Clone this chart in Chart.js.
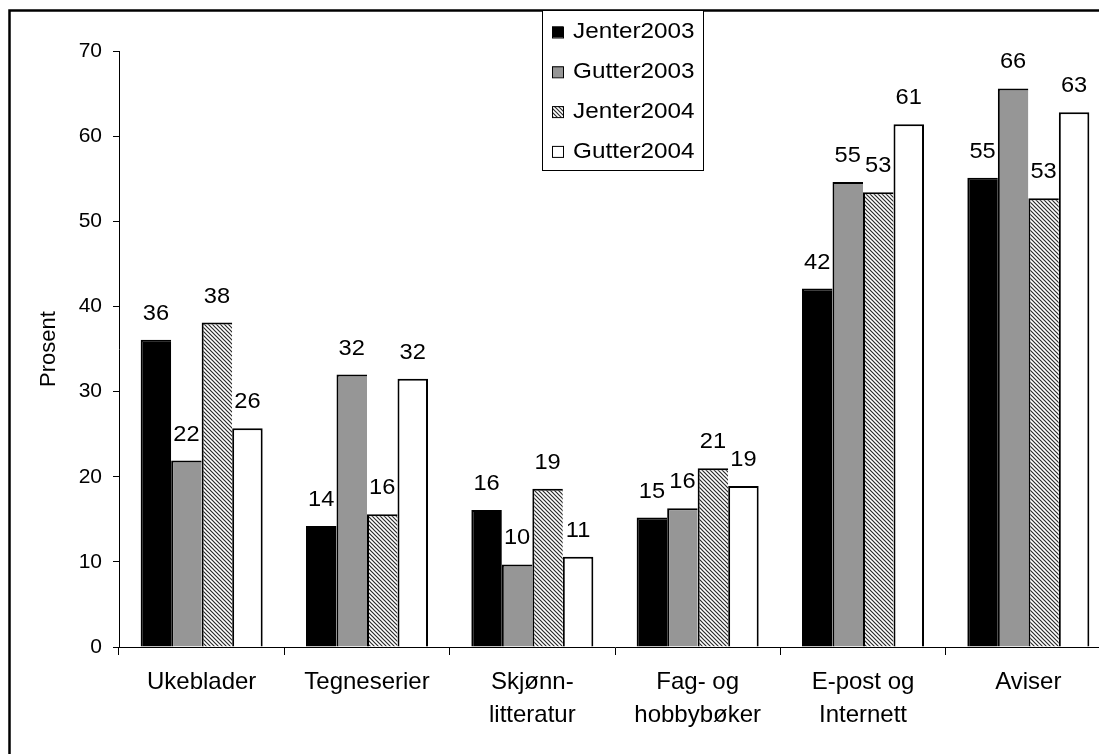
<!DOCTYPE html>
<html lang="no">
<head>
<meta charset="UTF-8">
<title>Prosent</title>
<script src="https://cdn.jsdelivr.net/npm/chart.js"></script>
<style>
  html, body { margin: 0; padding: 0; background: #fff; overflow: hidden; }
  #wrap { width: 1120px; height: 754px; }
</style>
</head>
<body>
<div id="wrap"><canvas id="chart" width="1120" height="754"></canvas></div>
<script>
  const categories = ['Ukeblader', 'Tegneserier', ['Skjønn-', 'litteratur'], ['Fag- og', 'hobbybøker'], ['E-post og', 'Internett'], 'Aviser'];
  const seriesNames = ['Jenter2003', 'Gutter2003', 'Jenter2004', 'Gutter2004'];
  const jenter2003 = [36.1, 14.2, 16.1, 15.2, 42.1, 55.1];
  const gutter2003 = [21.9, 32.0, 9.7, 16.3, 54.6, 65.6];
  const jenter2004 = [38.1, 15.6, 18.6, 21.0, 53.4, 52.7];
  const gutter2004 = [25.7, 31.5, 10.6, 18.9, 61.4, 62.8];
  const yTicks = [0, 10, 20, 30, 40, 50, 60, 70];

  const FONT = '"Liberation Sans", Arial, sans-serif';
  Chart.defaults.font.family = FONT;
  Chart.defaults.color = '#000';

  // diagonal hatch for Jenter2004
  function hatch() {
    const c = document.createElement('canvas');
    c.width = 4; c.height = 4;
    const g = c.getContext('2d');
    g.fillStyle = '#fff';
    g.fillRect(0, 0, 4, 4);
    g.strokeStyle = '#2a2a2a';
    g.lineWidth = 1.2;
    g.beginPath();
    g.moveTo(-1, -1); g.lineTo(5, 5);
    g.moveTo(-1, 3); g.lineTo(1, 5);
    g.moveTo(3, -1); g.lineTo(5, 1);
    g.stroke();
    return g.createPattern(c, 'repeat');
  }

  const fills = ['#000000', '#969696', hatch(), '#ffffff'];
  const values = [jenter2003, gutter2003, jenter2004, gutter2004];

  const datasets = seriesNames.map((name, i) => ({
    label: name,
    data: values[i],
    backgroundColor: fills[i],
    borderColor: '#000',
    borderWidth: { top: 2, left: 2, right: i === 3 ? 2 : 0, bottom: 0 },
    borderSkipped: false,
    barPercentage: 1.0,
    categoryPercentage: 0.738
  }));

  // text a bit wider than tall, like the original export
  function wideText(ctx, text, x, y, sx) {
    ctx.save();
    ctx.translate(x, y);
    ctx.scale(sx, 1);
    ctx.fillText(text, 0, 0);
    ctx.restore();
  }

  const framePlugin = {
    id: 'frame',
    afterDraw(chart) {
      const ctx = chart.ctx;
      ctx.save();
      ctx.strokeStyle = '#000';
      ctx.lineWidth = 2.5;
      ctx.beginPath();
      ctx.moveTo(9.5, 2000);
      ctx.lineTo(9.5, 10.5);
      ctx.lineTo(2000, 10.5);
      ctx.stroke();
      ctx.restore();
    }
  };

  const valueLabels = {
    id: 'valueLabels',
    afterDatasetsDraw(chart) {
      const ctx = chart.ctx;
      ctx.save();
      ctx.font = '21.5px ' + FONT;
      ctx.fillStyle = '#000';
      ctx.textAlign = 'center';
      ctx.textBaseline = 'alphabetic';
      chart.data.datasets.forEach((ds, i) => {
        chart.getDatasetMeta(i).data.forEach((bar, j) => {
          wideText(ctx, String(Math.round(ds.data[j])), bar.x, bar.y - 20, 1.1);
        });
      });
      ctx.restore();
    }
  };

  const boxLegend = {
    id: 'boxLegend',
    afterDraw(chart) {
      const ctx = chart.ctx;
      ctx.save();
      ctx.fillStyle = '#fff';
      ctx.fillRect(542, 10, 161, 160);
      ctx.strokeStyle = '#000';
      ctx.lineWidth = 1;
      ctx.strokeRect(542.5, 10.5, 161, 160);
      ctx.font = '22.5px ' + FONT;
      ctx.textAlign = 'left';
      ctx.textBaseline = 'middle';
      chart.data.datasets.forEach((ds, i) => {
        const cy = 31 + i * 39.8;
        ctx.fillStyle = ds.backgroundColor;
        ctx.fillRect(552, cy - 4.5, 11, 11);
        ctx.strokeStyle = '#000';
        ctx.strokeRect(552.5, cy - 4, 11, 11);
        ctx.fillStyle = '#000';
        wideText(ctx, ds.label, 573, cy + 1, 1.08);
      });
      ctx.restore();
    }
  };

  new Chart(document.getElementById('chart').getContext('2d'), {
    type: 'bar',
    data: { labels: categories, datasets },
    options: {
      responsive: false,
      animation: false,
      layout: { padding: { top: 51, right: 9, left: 0, bottom: 0 } },
      plugins: { legend: { display: false }, tooltip: { enabled: false } },
      scales: {
        x: {
          grid: { display: true, drawOnChartArea: false, drawTicks: true, tickLength: 8, color: '#000', offset: true },
          border: { display: true, color: '#000', width: 1 },
          ticks: { color: '#000', font: { size: 24, lineHeight: 1.38 }, padding: 11, maxRotation: 0, autoSkip: false },
          afterFit(s) { s.height = 107; }
        },
        y: {
          min: yTicks[0],
          max: yTicks[yTicks.length - 1],
          afterBuildTicks(s) { s.ticks = yTicks.map(v => ({ value: v })); },
          grid: { drawOnChartArea: false, tickLength: 6, color: '#000' },
          border: { display: true, color: '#000', width: 1 },
          ticks: { color: '#000', font: { size: 21 }, padding: 11 },
          title: { display: true, text: 'Prosent', color: '#000', font: { size: 22 }, padding: { top: 36, bottom: 0 } },
          afterFit(s) { s.width = 119; }
        }
      }
    },
    plugins: [framePlugin, valueLabels, boxLegend]
  });
</script>
</body>
</html>
